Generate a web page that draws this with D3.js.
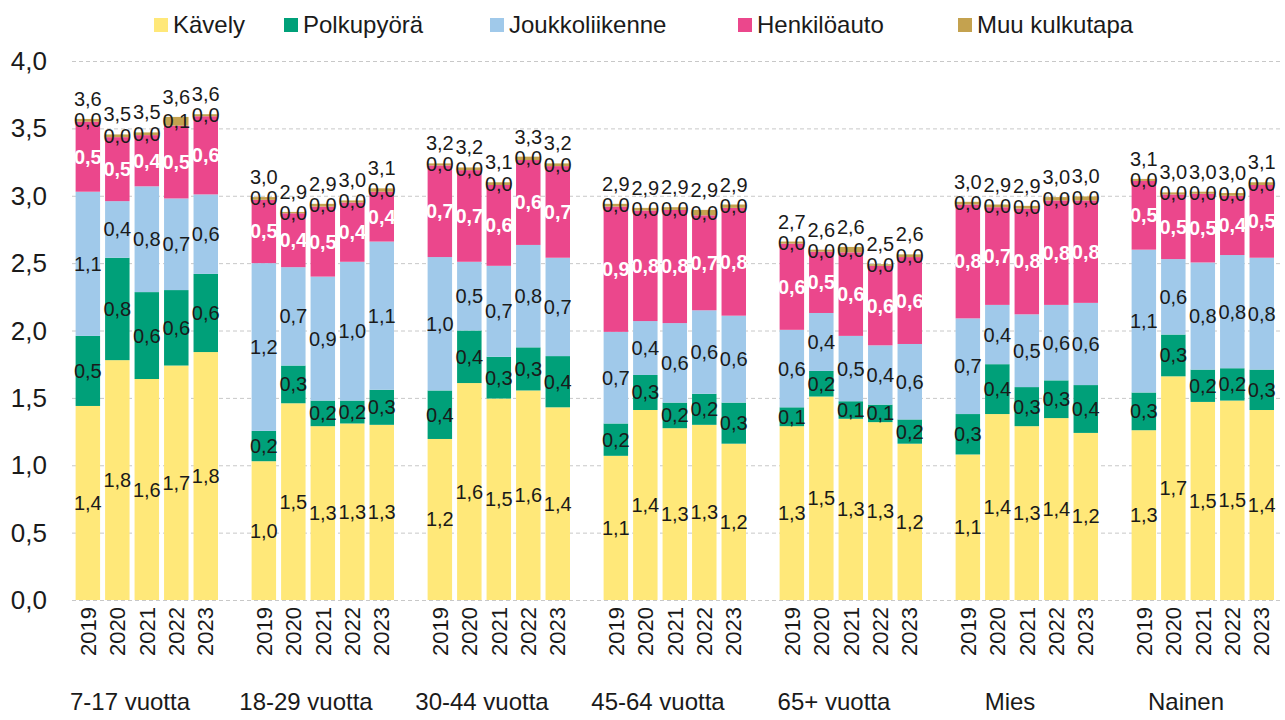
<!DOCTYPE html>
<html>
<head>
<meta charset="utf-8">
<script src="https://cdn.jsdelivr.net/npm/d3@7"></script>
<style>
  body { margin: 0; background: #fff; }
  svg { font-family: "Liberation Sans", Arial, sans-serif; }
</style>
</head>
<body>
<div class="canvas"></div>
<script>
// data
const groups = ['7-17 vuotta', '18-29 vuotta', '30-44 vuotta', '45-64 vuotta', '65+ vuotta', 'Mies', 'Nainen'];
const years = ['2019', '2020', '2021', '2022', '2023'];
const seriesNames = ['Kävely', 'Polkupyörä', 'Joukkoliikenne', 'Henkilöauto', 'Muu kulkutapa'];
const yTicks = [0, 0.5, 1, 1.5, 2, 2.5, 3, 3.5, 4];

// values per group, 5 years each
const kavely = [
  1.44, 1.78, 1.64, 1.74, 1.84,
  1.03, 1.46, 1.29, 1.31, 1.30,
  1.195, 1.61, 1.495, 1.555, 1.43,
  1.07, 1.41, 1.275, 1.30, 1.16,
  1.29, 1.51, 1.345, 1.32, 1.16,
  1.08, 1.38, 1.29, 1.35, 1.24,
  1.26, 1.66, 1.47, 1.48, 1.41];
const polkupyora = [
  0.52, 0.76, 0.645, 0.56, 0.58,
  0.225, 0.28, 0.19, 0.17, 0.26,
  0.36, 0.39, 0.31, 0.32, 0.38,
  0.24, 0.26, 0.19, 0.23, 0.305,
  0.14, 0.19, 0.13, 0.13, 0.18,
  0.30, 0.37, 0.29, 0.28, 0.355,
  0.28, 0.31, 0.24, 0.24, 0.30];
const joukkoliikenne = [
  1.07, 0.42, 0.785, 0.68, 0.59,
  1.245, 0.73, 0.92, 1.03, 1.10,
  0.99, 0.51, 0.675, 0.76, 0.73,
  0.68, 0.40, 0.59, 0.62, 0.645,
  0.575, 0.43, 0.485, 0.44, 0.56,
  0.71, 0.44, 0.54, 0.56, 0.61,
  1.06, 0.56, 0.795, 0.84, 0.83];
const henkiloauto = [
  0.52, 0.475, 0.38, 0.54, 0.58,
  0.47, 0.40, 0.52, 0.44, 0.37,
  0.68, 0.68, 0.60, 0.63, 0.68,
  0.93, 0.82, 0.84, 0.705, 0.80,
  0.64, 0.455, 0.62, 0.59, 0.645,
  0.845, 0.725, 0.785, 0.775, 0.76,
  0.51, 0.48, 0.51, 0.44, 0.54];
const muu = [
  0.02, 0.02, 0.02, 0.065, 0.015,
  0.02, 0.01, 0.02, 0.015, 0.025,
  0.015, 0.02, 0.02, 0.025, 0.02,
  0.02, 0.02, 0.02, 0.04, 0.025,
  0.015, 0.015, 0.04, 0.012, 0.02,
  0.02, 0.02, 0.02, 0.025, 0.03,
  0.015, 0.015, 0.015, 0.02, 0.02];

const seriesValues = [kavely, polkupyora, joukkoliikenne, henkiloauto, muu];
const colors = ['#ffe879', '#00a079', '#a0c9ea', '#eb478c', '#c4a24f'];

// build table rows for the stack
const rows = [];
groups.forEach((g, gi) => {
  years.forEach((yr, yi) => {
    const row = { group: g, year: yr };
    seriesNames.forEach((s, si) => { row[s] = seriesValues[si][gi * years.length + yi]; });
    rows.push(row);
  });
});

const W = 1285, H = 720;
const svg = d3.select('.canvas').append('svg')
  .attr('width', W).attr('height', H);

// scales
const x0 = d3.scaleBand().domain(groups).range([42, 1274]);
const x1 = d3.scaleBand().domain(years).range([0, x0.bandwidth()])
  .paddingInner(0.17).paddingOuter(0.57).align(1);
const y = d3.scaleLinear().domain([0, 4]).range([600, 61]);

const fmt = v => d3.format('.1f')(v).replace('.', ',');

// gridlines + y labels
svg.append('g').selectAll('line').data(yTicks).join('line')
  .attr('x1', 72).attr('x2', 1281)
  .attr('y1', d => y(d) + 0.5).attr('y2', d => y(d) + 0.5)
  .attr('stroke', '#c8c8c8').attr('stroke-width', 1)
  .attr('stroke-dasharray', '4,3');

svg.append('g').selectAll('text').data(yTicks).join('text')
  .attr('x', 47).attr('y', d => y(d))
  .attr('dy', '0.35em')
  .attr('text-anchor', 'end')
  .attr('font-size', 26).attr('fill', '#1a1a1a')
  .text(d => fmt(d));

// stacked bars
const stack = d3.stack().keys(seriesNames);
const stacked = stack(rows);

const barX = d => x0(d.data.group) + x1(d.data.year);

const layers = svg.append('g').selectAll('g').data(stacked).join('g')
  .attr('fill', (d, i) => colors[i]);

layers.selectAll('rect').data(d => d).join('rect')
  .attr('x', barX)
  .attr('width', x1.bandwidth())
  .attr('y', d => y(d[1]))
  .attr('height', d => y(d[0]) - y(d[1]));

// segment labels
const labels = svg.append('g');
stacked.forEach((layer, i) => {
  labels.append('g').selectAll('text').data(layer).join('text')
    .attr('x', d => barX(d) + x1.bandwidth() / 2)
    .attr('y', d => y((d[0] + d[1]) / 2))
    .attr('dy', '0.35em')
    .attr('text-anchor', 'middle')
    .attr('font-size', 20)
    .attr('font-weight', i === 3 ? 'bold' : 'normal')
    .attr('fill', i === 3 ? '#fff' : '#1a1a1a')
    .text(d => fmt(d[1] - d[0]));
});

// totals above bars
const topLayer = stacked[stacked.length - 1];
labels.append('g').selectAll('text').data(topLayer).join('text')
  .attr('x', d => barX(d) + x1.bandwidth() / 2)
  .attr('y', d => y(d[1]) - 20)
  .attr('dy', '0.35em')
  .attr('text-anchor', 'middle')
  .attr('font-size', 20).attr('fill', '#1a1a1a')
  .text(d => fmt(d[1]));

// year labels (rotated)
svg.append('g').selectAll('text').data(rows).join('text')
  .attr('transform', d => `translate(${x0(d.group) + x1(d.year) + x1.bandwidth() / 2}, 607) rotate(-90)`)
  .attr('dy', '0.35em')
  .attr('text-anchor', 'end')
  .attr('font-size', 22).attr('fill', '#1a1a1a')
  .text(d => d.year);

// group labels
svg.append('g').selectAll('text').data(groups).join('text')
  .attr('x', d => x0(d) + x0.bandwidth() / 2)
  .attr('y', 710)
  .attr('text-anchor', 'middle')
  .attr('font-size', 24).attr('fill', '#1a1a1a')
  .text(d => d);

// legend
const legendX = [173, 303, 509, 757, 977];
const legend = svg.append('g').selectAll('g').data(seriesNames).join('g')
  .attr('transform', (d, i) => `translate(${legendX[i]}, 25)`);
legend.append('rect')
  .attr('x', -19).attr('y', -7).attr('width', 14).attr('height', 14)
  .attr('fill', (d, i) => colors[i]);
legend.append('text')
  .attr('dy', '0.35em')
  .attr('font-size', 24).attr('fill', '#1a1a1a')
  .text(d => d);
</script>
</body>
</html>
